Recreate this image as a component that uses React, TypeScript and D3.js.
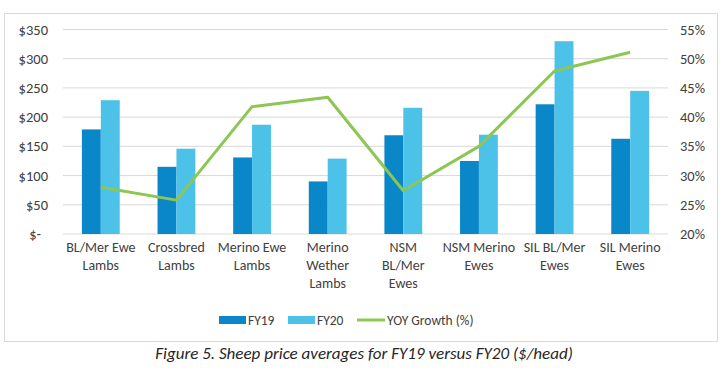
import React from "react";
import * as d3 from "d3";

const categories = [
  ["BL/Mer Ewe", "Lambs"],
  ["Crossbred", "Lambs"],
  ["Merino Ewe", "Lambs"],
  ["Merino", "Wether", "Lambs"],
  ["NSM", "BL/Mer", "Ewes"],
  ["NSM Merino", "Ewes"],
  ["SIL BL/Mer", "Ewes"],
  ["SIL Merino", "Ewes"],
];
const fy19 = [179, 115, 131, 90, 169, 125, 222, 163];
const fy20 = [229, 146, 187, 129, 216, 170, 330, 245];
const yoy = [28.0, 25.8, 41.8, 43.4, 27.4, 35.0, 47.9, 51.1];
const leftTicks = [0, 50, 100, 150, 200, 250, 300, 350];
const rightTicks = [20, 25, 30, 35, 40, 45, 50, 55];
const seriesNames = ["FY19", "FY20", "YOY Growth (%)"];

const C19 = "#0a87c8";
const C20 = "#4cc2e9";
const CL = "#8cc653";
const FONT = "Carlito, Lato, 'Liberation Sans', sans-serif";

export default function App() {
  const W = 728, H = 383;
  const left = 63, right = 668, top = 29.5, bottom = 234;
  const x = d3.scaleBand<number>().domain(d3.range(categories.length)).range([left, right]).paddingInner(0).paddingOuter(0);
  const y = d3.scaleLinear().domain([0, 350]).range([bottom, top]);
  const y2 = d3.scaleLinear().domain([20, 55]).range([bottom, top]);
  const bw = x.bandwidth() * 0.25;
  const cx = (i: number) => (x(i) as number) + x.bandwidth() / 2;
  const line = d3.line<number>().x((_, i) => cx(i)).y((d) => y2(d));

  return (
    <svg width={W} height={H} style={{ position: "absolute", left: 0, top: 0, background: "#fff" }} fontFamily={FONT}>
      <rect x={4.5} y={13.5} width={713} height={328} fill="#fff" stroke="#d9d9d9" />
      {leftTicks.map((t) => (
        <line key={t} x1={left} x2={right} y1={y(t)} y2={y(t)} stroke="#d9d9d9" strokeWidth={1} />
      ))}
      {leftTicks.map((t) => (
        <text key={"l" + t} x={t === 0 ? 41 : 48} y={y(t)} dy="0.35em" textAnchor="end" fontSize={14.5} fill="#404040">
          {t === 0 ? "$-" : `$${t}`}
        </text>
      ))}
      {rightTicks.map((t) => (
        <text key={"r" + t} x={680} y={y2(t)} dy="0.35em" textAnchor="start" fontSize={14.5} fill="#404040">
          {`${t}%`}
        </text>
      ))}
      {fy19.map((v, i) => (
        <rect key={"a" + i} x={cx(i) - bw} y={y(v)} width={bw} height={bottom - y(v)} fill={C19} />
      ))}
      {fy20.map((v, i) => (
        <rect key={"b" + i} x={cx(i)} y={y(v)} width={bw} height={bottom - y(v)} fill={C20} />
      ))}
      <path d={line(yoy) || ""} fill="none" stroke={CL} strokeWidth={3} strokeLinejoin="round" />
      {categories.map((lines, i) => (
        <text key={"c" + i} x={cx(i)} y={252} textAnchor="middle" fontSize={14} fill="#404040">
          {lines.map((l, j) => (
            <tspan key={j} x={cx(i)} dy={j === 0 ? 0 : 18}>{l}</tspan>
          ))}
        </text>
      ))}
      <g fontSize={13.5} fill="#404040">
        <rect x={219} y={316} width={27} height={8} fill={C19} />
        <text x={248} y={320} dy="0.35em">{seriesNames[0]}</text>
        <rect x={288} y={316} width={27} height={8} fill={C20} />
        <text x={317} y={320} dy="0.35em">{seriesNames[1]}</text>
        <line x1={357} x2={385} y1={320} y2={320} stroke={CL} strokeWidth={3} />
        <text x={387} y={320} dy="0.35em">{seriesNames[2]}</text>
      </g>
      <text x={364} y={359} textAnchor="middle" fontSize={17} fontStyle="italic" fill="#262626">
        Figure 5. Sheep price averages for FY19 versus FY20 ($/head)
      </text>
    </svg>
  );
}
